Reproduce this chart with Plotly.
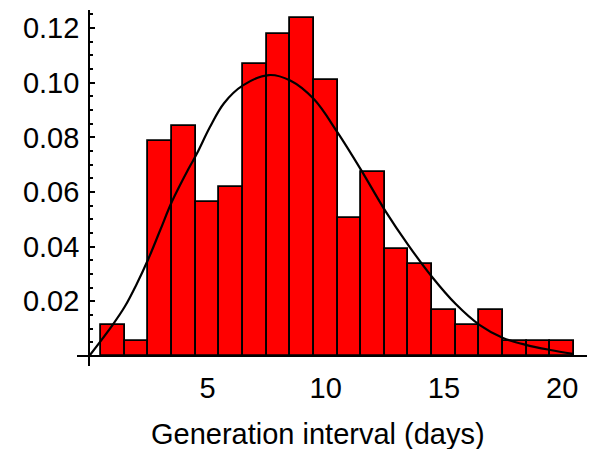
import plotly.graph_objects as go

# Histogram of generation intervals (bin centres, density)
bin_centers = [1, 2, 3, 4, 5, 6, 7, 8, 9, 10, 11, 12, 13, 14, 15, 16, 17, 18, 19, 20]
density = [0.0112, 0.0056, 0.0787, 0.0843, 0.0562, 0.0618, 0.1067, 0.1180, 0.1236, 0.1011,
           0.0506, 0.0674, 0.0393, 0.0337, 0.0169, 0.0112, 0.0169, 0.0056, 0.0056, 0.0056]

# Fitted density curve
curve_x = [0, 1.0, 1.5, 2.0, 2.5, 3.0, 3.5, 4.2, 4.55, 5.1, 5.7, 6.5, 7.6, 8.5, 9.5, 10.5,
           11.5, 12.5, 13.5, 14.5, 15.5, 16.5, 17.5, 18.5, 19.5, 20.45]
curve_y = [0, 0.0115, 0.0180, 0.0262, 0.0355, 0.0460, 0.0565, 0.0685, 0.0740, 0.0837, 0.0925,
           0.0990, 0.1028, 0.1008, 0.0940, 0.0818, 0.0680, 0.0534, 0.0405, 0.0289, 0.0190,
           0.0114, 0.0066, 0.0040, 0.0022, 0.0008]

x_ticks = [5, 10, 15, 20]
y_ticks = [0.02, 0.04, 0.06, 0.08, 0.10, 0.12]
y_tick_text = ["0.02", "0.04", "0.06", "0.08", "0.10", "0.12"]

xr = [-0.516, 21.05]
yr = [-0.00366, 0.1266]

fig = go.Figure()
fig.add_trace(go.Bar(
    x=bin_centers, y=density, width=1,
    marker=dict(color="#FF0000", line=dict(color="black", width=1.8)),
    showlegend=False, hoverinfo="skip",
))
fig.add_trace(go.Scatter(
    x=curve_x, y=curve_y, mode="lines",
    line=dict(color="black", width=2.2, shape="spline", smoothing=1.0),
    showlegend=False, hoverinfo="skip",
))

tick_font = dict(family="Liberation Sans, Arial, sans-serif", size=29, color="black")
title_font = dict(family="Liberation Sans, Arial, sans-serif", size=29, color="black")

fig.update_layout(
    width=592, height=449,
    margin=dict(l=77, r=5, t=10, b=83, autoexpand=False),
    paper_bgcolor="white", plot_bgcolor="white",
    bargap=0,
    font=tick_font,
    xaxis=dict(
        range=xr, anchor="free", position=(0 - yr[0]) / (yr[1] - yr[0]),
        automargin=False,
        showgrid=False, zeroline=False, showline=True, linecolor="black", linewidth=2,
        tickmode="array", tickvals=x_ticks, ticks="", ticklabelstandoff=6,
        tickfont=tick_font,
    ),
    yaxis=dict(
        range=yr, anchor="free", position=(0 - xr[0]) / (xr[1] - xr[0]),
        automargin=False,
        showgrid=False, zeroline=False, showline=True, linecolor="black", linewidth=2,
        tickmode="array", tickvals=y_ticks, ticktext=y_tick_text,
        ticks="inside", ticklen=5, tickwidth=2, tickcolor="black",
        ticklabelstandoff=3, tickfont=tick_font,
        minor=dict(dtick=0.005, tick0=0, ticks="inside", ticklen=3, tickwidth=1.5,
                   tickcolor="black", showgrid=False),
    ),
    annotations=[dict(
        text="Generation interval (days)", xref="paper", yref="paper",
        x=(318 - 77) / 510, y=-68 / 356, xanchor="center", yanchor="middle",
        showarrow=False, font=title_font,
    )],
)

fig.write_html("out.html", config={"displayModeBar": False},
               post_script="document.body.style.margin='0';document.body.style.overflow='hidden';")
